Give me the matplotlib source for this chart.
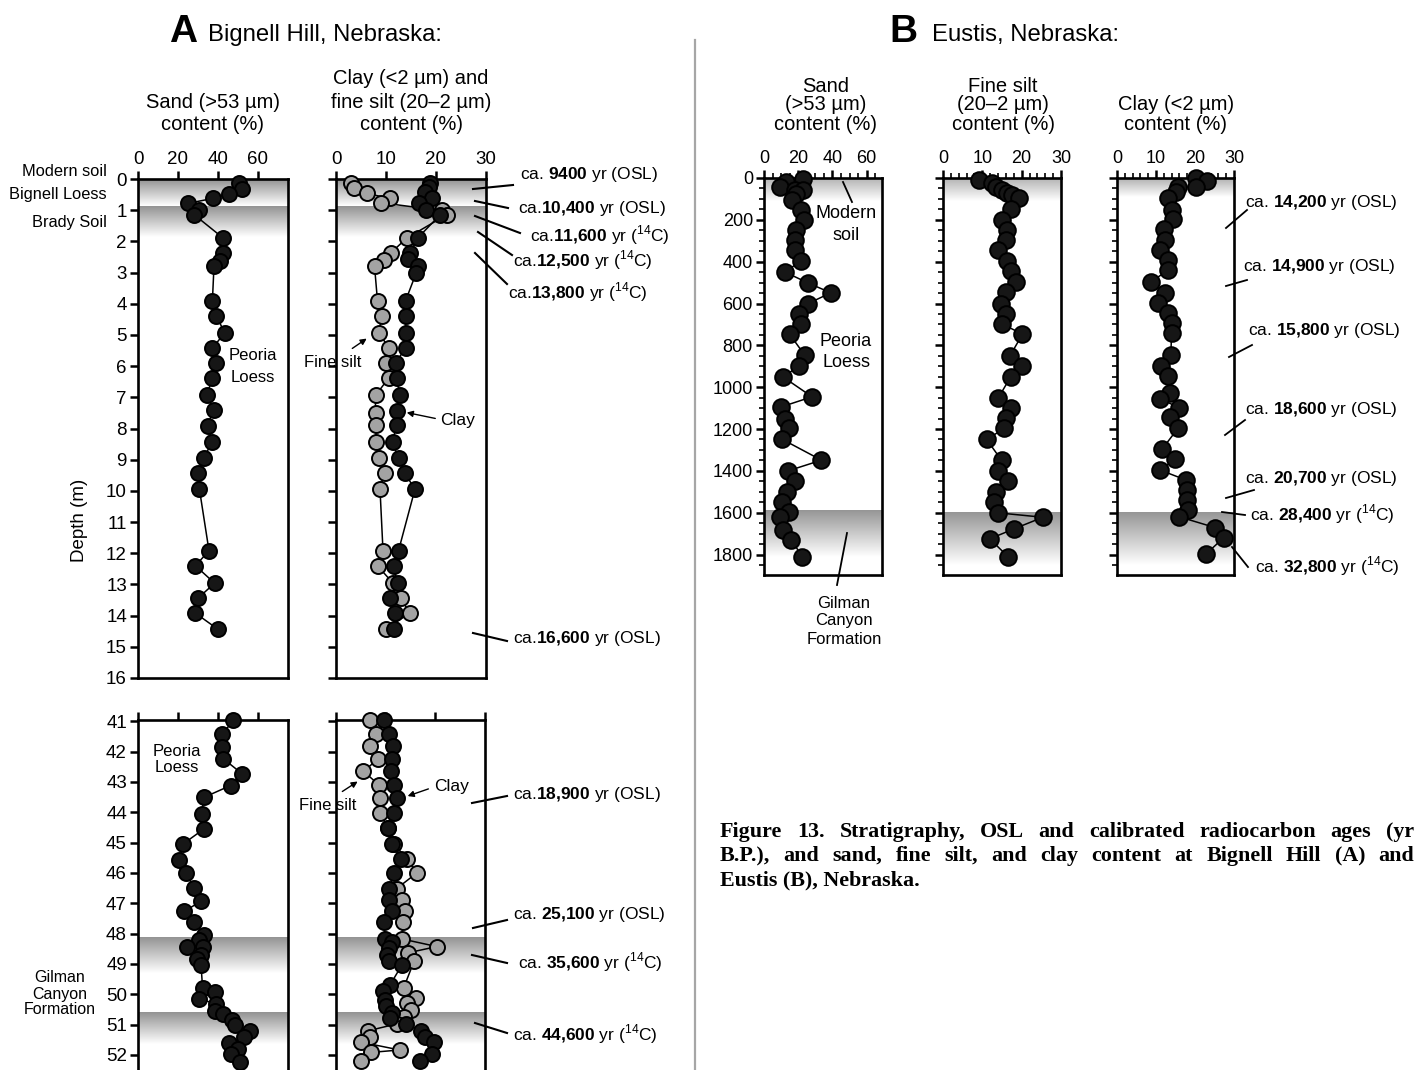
#!/usr/bin/env python
# coding: utf-8

import numpy as np
import matplotlib
matplotlib.use('Agg')
import matplotlib.pyplot as plt
from matplotlib.colors import LinearSegmentedColormap
from matplotlib.lines import Line2D
from matplotlib.patches import FancyArrowPatch
from matplotlib.ticker import MultipleLocator

plt.rcParams['font.family'] = ['Liberation Sans', 'DejaVu Sans']
plt.rcParams['mathtext.fontset'] = 'custom'
plt.rcParams['mathtext.rm'] = 'Liberation Sans'
plt.rcParams['mathtext.bf'] = 'Liberation Sans:bold'

# ---- Bignell Hill, upper section (depth in m, content in %) ----
sand_top_depth = [0.12, 0.32, 0.48, 0.62, 0.78, 1.01, 1.15, 1.90, 2.38, 2.62, 2.79, 3.91, 4.39, 4.93, 5.43,
                  5.89, 6.39, 6.94, 7.40, 7.91, 8.42, 8.95, 9.43, 9.94, 11.92, 12.40, 12.96, 13.44, 13.92, 14.43]
sand_top = [50.5, 51.8, 45.3, 37.7, 25.0, 30.5, 28.2, 42.7, 42.7, 41.0, 38.0, 37.2, 39.2, 43.3, 37.2,
            39.0, 37.2, 34.3, 37.8, 34.8, 37.2, 32.8, 29.8, 30.7, 35.5, 28.7, 38.3, 30.0, 28.7, 39.8]

clay_top_depth = [0.12, 0.26, 0.42, 0.62, 0.76, 1.01, 1.15, 1.90, 2.38, 2.55, 2.79, 3.03, 3.91, 4.39, 4.93, 5.43,
                  5.89, 6.39, 6.94, 7.43, 7.90, 8.42, 8.95, 9.43, 9.94, 11.92, 12.40, 12.96, 13.44, 13.92, 14.43]
clay_top = [18.8, 18.5, 17.8, 19.1, 16.5, 18.0, 20.8, 16.3, 14.8, 14.3, 16.3, 16.0, 13.9, 13.9, 13.9, 13.9,
            11.9, 12.1, 12.8, 12.1, 12.1, 11.3, 12.5, 13.7, 15.8, 12.5, 11.5, 12.3, 10.8, 11.7, 11.5]

silt_top_depth = [0.12, 0.30, 0.46, 0.62, 0.76, 1.01, 1.15, 1.90, 2.38, 2.60, 2.79, 3.91, 4.39, 4.93, 5.43,
                  5.90, 6.39, 6.94, 7.51, 7.90, 8.42, 8.95, 9.43, 9.94, 11.92, 12.40, 12.96, 13.44, 13.92, 14.43]
silt_top = [2.9, 3.5, 6.1, 10.7, 8.9, 21.1, 22.1, 14.1, 10.9, 9.5, 7.7, 8.3, 9.1, 8.6, 10.6,
            9.9, 10.5, 7.9, 7.9, 8.0, 8.0, 8.6, 9.7, 8.8, 9.4, 8.3, 11.4, 13.0, 14.7, 10.0]

# ---- Bignell Hill, lower section ----
sand_bot_depth = [40.97, 41.42, 41.86, 42.24, 42.73, 43.12, 43.51, 44.05, 44.55, 45.04, 45.56, 46.00, 46.50,
                  46.94, 47.27, 47.63, 48.06, 48.23, 48.45, 48.45, 48.70, 48.84, 49.03, 49.80, 49.93, 50.15,
                  50.32, 50.54, 50.65, 50.84, 51.00, 51.21, 51.42, 51.60, 51.80, 51.98, 52.22]
sand_bot = [47.7, 42.2, 42.2, 42.7, 52.0, 46.3, 33.0, 31.8, 33.0, 22.7, 20.7, 23.8, 28.2,
            31.3, 23.2, 28.0, 33.2, 30.7, 24.3, 32.3, 31.5, 29.7, 31.5, 32.3, 38.7, 30.7,
            38.8, 38.7, 42.3, 46.8, 48.5, 56.0, 53.0, 45.7, 49.8, 46.3, 51.0]

clay_bot_depth = [40.97, 41.41, 41.83, 42.26, 42.65, 43.09, 43.53, 44.02, 44.52, 45.04, 45.54, 46.00, 46.52,
                  46.91, 47.27, 47.63, 48.18, 48.29, 48.48, 48.70, 48.92, 49.03, 49.69, 49.91, 50.18, 50.40,
                  50.62, 50.79, 50.98, 51.21, 51.42, 51.58, 51.98, 52.20]
clay_bot = [9.7, 10.6, 11.4, 11.2, 11.1, 11.7, 12.2, 11.7, 10.4, 11.2, 13.1, 11.7, 10.7,
            10.7, 11.2, 9.6, 9.9, 11.2, 10.6, 10.3, 10.7, 13.3, 10.9, 9.4, 9.9, 10.1,
            11.2, 10.9, 14.1, 17.1, 17.9, 19.7, 19.3, 16.9]

silt_bot_depth = [40.97, 41.41, 41.83, 42.26, 42.65, 43.09, 43.53, 44.02, 44.52, 45.04, 45.54, 46.00, 46.52,
                  46.91, 47.27, 47.63, 48.18, 48.43, 48.64, 48.92, 49.80, 50.11, 50.29, 50.52, 50.74, 50.98,
                  51.21, 51.40, 51.58, 51.84, 51.92, 52.20]
silt_bot = [6.9, 8.1, 6.9, 8.4, 5.5, 8.6, 8.8, 8.9, 10.4, 11.6, 14.3, 16.3, 12.2,
            13.3, 13.8, 13.4, 13.3, 20.3, 14.4, 15.7, 13.6, 16.1, 14.3, 15.1, 13.6, 12.2,
            6.4, 6.9, 5.0, 12.8, 7.1, 5.0]

# ---- Eustis (depth in cm) ----
eu_sand_depth = [3, 19, 43, 55, 59, 75, 103, 151, 199, 250, 298, 345, 396, 449, 502, 549, 600, 648, 696,
                 748, 847, 900, 951, 1046, 1094, 1150, 1197, 1250, 1349, 1400, 1449, 1500, 1551, 1599,
                 1623, 1683, 1731, 1811]
eu_sand = [22.8, 13.1, 9.2, 18.0, 22.8, 18.6, 16.2, 21.9, 23.4, 19.0, 18.0, 18.4, 21.9, 12.1, 25.8, 39.1,
           25.8, 20.3, 21.9, 15.1, 23.8, 20.3, 11.1, 28.1, 10.2, 12.1, 14.5, 10.8, 33.6, 14.1, 18.0,
           13.7, 10.8, 14.5, 9.2, 11.1, 16.0, 22.5]

eu_silt_depth = [10, 26, 41, 57, 72, 81, 96, 148, 200, 247, 295, 345, 396, 447, 495, 547, 600, 648, 696,
                 747, 851, 899, 951, 1050, 1098, 1149, 1197, 1250, 1350, 1401, 1449, 1502, 1550, 1601,
                 1622, 1677, 1725, 1810]
eu_silt = [9.1, 12.4, 13.6, 14.9, 16.2, 17.5, 19.2, 17.2, 14.9, 16.2, 16.0, 14.1, 16.2, 17.2, 18.6, 16.0,
           14.7, 16.0, 14.9, 20.2, 17.0, 20.2, 17.2, 14.1, 17.2, 15.9, 15.6, 11.1, 14.9, 14.1, 16.6,
           13.6, 13.0, 14.1, 25.4, 18.1, 11.9, 16.5]

eu_clay_depth = [0, 16, 43, 43, 67, 98, 151, 197, 245, 297, 345, 392, 440, 496, 548, 596, 647, 694, 742,
                 845, 898, 945, 1030, 1055, 1099, 1144, 1195, 1298, 1345, 1396, 1444, 1493, 1541, 1589,
                 1620, 1671, 1719, 1798]
eu_clay = [20.2, 23.1, 20.2, 15.7, 15.1, 13.0, 14.0, 14.4, 12.1, 12.3, 11.0, 13.2, 13.2, 8.7, 12.3, 10.6,
           13.0, 14.0, 14.0, 13.8, 11.3, 13.2, 13.6, 11.0, 16.0, 13.6, 15.7, 11.5, 14.9, 11.0, 17.7,
           18.0, 18.0, 18.1, 16.0, 25.1, 27.4, 22.8]

ages_a_top = [("9400", "OSL", " "), ("10,400", "OSL", ""), ("11,600", "14C", ""),
              ("12,500", "14C", ""), ("13,800", "14C", ""), ("16,600", "OSL", "")]
ages_a_bot = [("18,900", "OSL", ""), ("25,100", "OSL", " "), ("35,600", "14C", " "), ("44,600", "14C", " ")]
ages_b = [("14,200", "OSL"), ("14,900", "OSL"), ("15,800", "OSL"), ("18,600", "OSL"),
          ("20,700", "OSL"), ("28,400", "14C"), ("32,800", "14C")]

caption = ['Figure 13. Stratigraphy, OSL and calibrated radiocarbon ages (yr',
           'B.P.), and sand, fine silt, and clay content at Bignell Hill (A) and',
           'Eustis (B), Nebraska.']

W, H = 1416, 1070
fig = plt.figure(figsize=(W / 100, H / 100), dpi=100)


def fx(x):
    return x / W


def fy(y):
    return 1 - y / H


def make_ax(l, t, r, b):
    ax = fig.add_axes([l / W, 1 - b / H, (r - l) / W, (b - t) / H])
    for s in ax.spines.values():
        s.set_linewidth(1.9)
    ax.xaxis.tick_top()
    ax.tick_params(direction='out', length=6, width=1.8, labelsize=13.5, pad=2)
    ax.tick_params(axis='y', right=False)
    return ax


def band(ax, d0, d1, c0):
    grad = np.linspace(0, 1, 200).reshape(-1, 1)
    cmap = LinearSegmentedColormap.from_list('b', [c0, '#ffffff'])
    x0, x1 = ax.get_xlim()
    ax.imshow(grad, extent=(x0, x1, d1, d0), cmap=cmap, aspect='auto',
              zorder=0, interpolation='bilinear')


def series(ax, vals, depth, face, ms=10.8, z=3):
    ax.plot(vals, depth, '-', color='k', lw=1.1, marker='o', ms=ms, mfc=face,
            mec='k', mew=1.4, clip_on=False, zorder=z)


def line(x0, y0, x1, y1, lw=1.5):
    fig.add_artist(Line2D([fx(x0), fx(x1)], [fy(y0), fy(y1)], color='k', lw=lw,
                          transform=fig.transFigure))


def arrow(x0, y0, x1, y1):
    fig.add_artist(FancyArrowPatch((fx(x0), fy(y0)), (fx(x1), fy(y1)), transform=fig.transFigure,
                                   arrowstyle='-|>', mutation_scale=9, lw=1.0, color='k'))


def txt(x, y, s, size=11, ha='center', **kw):
    return fig.text(fx(x), fy(y), s, fontsize=size, ha=ha, va='center', **kw)


def age_label(num, meth, sp):
    num = num.replace(',', '{,}')
    m = '$^{14}$C' if meth == '14C' else 'OSL'
    return 'ca.' + sp + r'$\mathbf{' + num + '}$ yr (' + m + ')'


BLACK = '#161616'
GRAY = '#a3a3a3'

# ---------------- Panel A, upper ----------------
ax1 = make_ax(138, 179, 288, 678)
ax1.set_xlim(0, 75)
band(ax1, 0, 0.87, '#8e8e8e')
band(ax1, 0.87, 1.85, '#939393')
ax1.set_ylim(16, 0)
ax1.set_xticks([0, 20, 40, 60])
ax1.set_yticks(range(0, 17))
series(ax1, sand_top, sand_top_depth, BLACK)

ax2 = make_ax(336, 179, 486, 678)
ax2.set_xlim(0, 30)
band(ax2, 0, 0.87, '#8e8e8e')
band(ax2, 0.87, 1.85, '#939393')
ax2.set_ylim(16, 0)
ax2.set_xticks([0, 10, 20, 30])
ax2.set_yticks(range(0, 17))
ax2.set_yticklabels([])
series(ax2, silt_top, silt_top_depth, GRAY, z=3)
series(ax2, clay_top, clay_top_depth, BLACK, z=4)

# ---------------- Panel A, lower ----------------
ax3 = make_ax(138, 720, 288, 1070)
ax3.set_xlim(0, 75)
band(ax3, 48.12, 49.3, '#939393')
band(ax3, 50.62, 51.65, '#939393')
ax3.set_ylim(52.5, 40.96)
ax3.set_xticks([0, 20, 40, 60])
ax3.set_xticklabels([])
ax3.set_yticks(range(41, 53))
ax3.spines['bottom'].set_visible(False)
series(ax3, sand_bot, sand_bot_depth, BLACK)

ax4 = make_ax(336, 720, 485, 1070)
ax4.set_xlim(0, 30)
band(ax4, 48.12, 49.3, '#939393')
band(ax4, 50.62, 51.65, '#939393')
ax4.set_ylim(52.5, 40.96)
ax4.set_xticks([0, 10, 20, 30])
ax4.set_xticklabels([])
ax4.set_yticks(range(41, 53))
ax4.set_yticklabels([])
ax4.spines['bottom'].set_visible(False)
series(ax4, silt_bot, silt_bot_depth, GRAY, z=3)
series(ax4, clay_bot, clay_bot_depth, BLACK, z=4)

# ---------------- Panel B ----------------
ax5 = make_ax(764, 178, 882, 575)
ax5.set_xlim(0, 69)
band(ax5, 0, 110, '#b0b0b0')
band(ax5, 1590, 1810, '#969696')
ax5.set_ylim(1898, 0)
ax5.set_xticks([0, 20, 40, 60])
ax5.xaxis.set_minor_locator(MultipleLocator(5))

ax6 = make_ax(943, 178, 1061, 575)
ax6.set_xlim(0, 30)
band(ax6, 0, 110, '#b0b0b0')
band(ax6, 1600, 1850, '#969696')
ax6.set_ylim(1898, 0)
ax6.set_xticks([0, 10, 20, 30])
ax6.xaxis.set_minor_locator(MultipleLocator(2))

ax7 = make_ax(1117, 178, 1234, 575)
ax7.set_xlim(0, 30)
band(ax7, 0, 90, '#b0b0b0')
band(ax7, 1600, 1850, '#969696')
ax7.set_ylim(1898, 0)
ax7.set_xticks([0, 10, 20, 30])
ax7.xaxis.set_minor_locator(MultipleLocator(2))

for ax in (ax5, ax6, ax7):
    ax.set_yticks(range(0, 1900, 200))
    ax.yaxis.set_minor_locator(MultipleLocator(50))
    ax.tick_params(which='minor', direction='out', length=3.5, width=1.2)
    ax.tick_params(which='minor', axis='y', right=False)
    ax.tick_params(which='minor', axis='x', bottom=False, top=True)
    ax.tick_params(labelsize=13)
ax6.set_yticklabels([])
ax7.set_yticklabels([])

series(ax5, eu_sand, eu_sand_depth, BLACK, ms=12)
series(ax6, eu_silt, eu_silt_depth, BLACK, ms=12)
series(ax7, eu_clay, eu_clay_depth, BLACK, ms=12)

# ---------------- Titles and headers ----------------
txt(183, 32, 'A', size=28, weight='bold')
txt(208, 35, 'Bignell Hill, Nebraska:', size=17.2, ha='left')
txt(903, 32, 'B', size=28, weight='bold')
txt(932, 35, 'Eustis, Nebraska:', size=17.2, ha='left')

HS = 14.5
txt(213, 102, 'Sand (>53 µm)', size=HS)
txt(213, 125, 'content (%)', size=HS)
txt(411, 78, 'Clay (<2 µm) and', size=HS)
txt(411, 102, 'fine silt (20–2 µm)', size=HS)
txt(411, 125, 'content (%)', size=HS)

txt(826, 86, 'Sand', size=HS)
txt(826, 105, '(>53 µm)', size=HS)
txt(826, 124, 'content (%)', size=HS)
txt(1003, 86, 'Fine silt', size=HS)
txt(1003, 105, '(20–2 µm)', size=HS)
txt(1003, 124, 'content (%)', size=HS)
txt(1176, 105, 'Clay (<2 µm)', size=HS)
txt(1176, 124, 'content (%)', size=HS)

# ---------------- Panel A labels ----------------
txt(107, 172, 'Modern soil', size=11.8, ha='right')
txt(107, 195, 'Bignell Loess', size=11.8, ha='right')
txt(107, 222, 'Brady Soil', size=11.8, ha='right')
fig.text(fx(80), fy(520), 'Depth (m)', fontsize=13.5, rotation=90, ha='center', va='center')
txt(253, 356, 'Peoria', size=12)
txt(253, 377, 'Loess', size=12)
txt(333, 362, 'Fine silt', size=12)
arrow(350, 350, 369, 337)
txt(440, 420, 'Clay', size=12.5, ha='left')
arrow(438, 419, 404, 412)

txt(177, 751, 'Peoria', size=12)
txt(177, 768, 'Loess', size=12)
txt(60, 978, 'Gilman', size=11.5)
txt(60, 994, 'Canyon', size=11.5)
txt(60, 1010, 'Formation', size=11.5)
txt(328, 806, 'Fine silt', size=12)
arrow(340, 793, 360, 780)
txt(434, 787, 'Clay', size=12.5, ha='left')
arrow(431, 788, 405, 797)

# age markers, Bignell Hill
AS = 12.5
a_top_lines = [(473, 189, 513, 185), (475, 201, 508, 208), (475, 216, 520, 233),
               (478, 232, 512, 255), (475, 253, 507, 284), (473, 633, 507, 641)]
a_top_text = [(520, 175), (518, 208), (530, 235), (513, 260), (508, 292), (513, 639)]
for (num, meth, sp), ln, tp in zip(ages_a_top, a_top_lines, a_top_text):
    line(*ln)
    txt(tp[0], tp[1], age_label(num, meth, sp), size=AS, ha='left')

a_bot_lines = [(472, 803, 507, 796), (473, 928, 507, 920), (472, 955, 507, 963), (475, 1023, 507, 1033)]
a_bot_text = [(513, 795), (513, 915), (518, 962), (513, 1034)]
for (num, meth, sp), ln, tp in zip(ages_a_bot, a_bot_lines, a_bot_text):
    line(*ln)
    txt(tp[0], tp[1], age_label(num, meth, sp), size=AS, ha='left')

# ---------------- Panel B labels ----------------
txt(846, 214, 'Modern', size=13)
txt(846, 236, 'soil', size=13)
line(843, 182, 852, 202, lw=1.3)
txt(846, 341, 'Peoria', size=13)
txt(846, 362, 'Loess', size=13)
txt(844, 604, 'Gilman', size=12)
txt(844, 621, 'Canyon', size=12)
txt(844, 639, 'Formation', size=12)
line(847, 533, 837, 585, lw=1.3)

b_lines = [(1226, 228, 1247, 210), (1226, 286, 1247, 280), (1229, 357, 1252, 345), (1225, 435, 1245, 420),
           (1226, 498, 1254, 490), (1222, 512, 1245, 515), (1232, 547, 1248, 567)]
b_text = [(1245, 202), (1243, 266), (1248, 331), (1245, 410), (1245, 479), (1250, 514), (1255, 566)]
for (num, meth), ln, tp in zip(ages_b, b_lines, b_text):
    line(*ln, lw=1.3)
    txt(tp[0], tp[1], age_label(num, meth, ' '), size=AS, ha='left')

# divider
fig.add_artist(Line2D([fx(695), fx(695)], [fy(40), fy(1070)], color='#a6a6a6', lw=1.6,
                      transform=fig.transFigure))

# caption, first two lines justified between x=720 and x=1414
renderer = fig.canvas.get_renderer()
cap_kw = dict(fontsize=15.8, family='Liberation Serif', weight='bold', ha='left', va='center')
for i, s in enumerate(caption):
    y = fy(832 + 24 * i)
    if i == len(caption) - 1:
        fig.text(fx(720), y, s, **cap_kw)
        continue
    words = [fig.text(0, y, w, **cap_kw) for w in s.split(' ')]
    widths = [t.get_window_extent(renderer).width for t in words]
    gap = (1414 - 720 - sum(widths)) / (len(words) - 1)
    x = 720
    for t, w in zip(words, widths):
        t.set_x(fx(x))
        x += w + gap

fig.savefig('out.png', dpi=100)
